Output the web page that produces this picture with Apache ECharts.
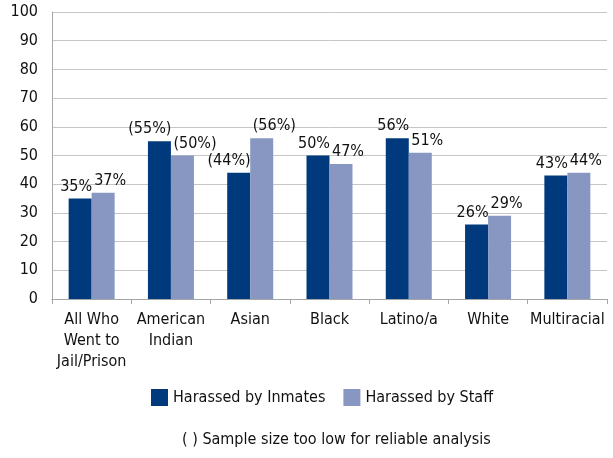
<!DOCTYPE html>
<html><head><meta charset="utf-8">
<script src="https://cdn.jsdelivr.net/npm/echarts@6/dist/echarts.min.js"></script>
<style>html,body{margin:0;padding:0;background:#fff}#c{width:613px;height:458px}</style>
</head><body><div id="c"></div>
<script>
const categories = ['All Who\nWent to\nJail/Prison', 'American\nIndian', 'Asian', 'Black', 'Latino/a', 'White', 'Multiracial'];
const inmates = [35, 55, 44, 50, 56, 26, 43];
const staff = [37, 50, 56, 47, 51, 29, 44];
const lowSample = [false, true, true, false, false, false, false];
const seriesNames = ['Harassed by Inmates', 'Harassed by Staff'];
const yTicks = {min: 0, max: 100, interval: 10};
const note = '( ) Sample size too low for reliable analysis';

const FONT = '"Liberation Sans Narrow", "DejaVu Sans Condensed", sans-serif';
const fmt = p => lowSample[p.dataIndex] ? '(' + p.value + '%)' : p.value + '%';
const chart = echarts.init(document.getElementById('c'));
chart.setOption({
  animation: false,
  textStyle: {fontFamily: FONT},
  grid: {left: 52, right: 6, top: 12, bottom: 159, containLabel: false},
  xAxis: {
    type: 'category', data: categories,
    axisLine: {lineStyle: {color: '#A6A6A6'}},
    axisTick: {show: true, length: 5, lineStyle: {color: '#A6A6A6'}},
    axisLabel: {color: '#111', fontSize: 16, fontFamily: FONT, lineHeight: 21, margin: 10, interval: 0}
  },
  yAxis: {
    type: 'value', min: yTicks.min, max: yTicks.max, interval: yTicks.interval,
    axisLine: {show: true, lineStyle: {color: '#A6A6A6'}},
    axisTick: {show: false},
    splitLine: {lineStyle: {color: '#C6C6C6'}},
    axisLabel: {color: '#111', fontSize: 16, fontFamily: FONT, margin: 14}
  },
  legend: {
    data: seriesNames, left: 146, top: 384, itemWidth: 17, itemHeight: 17, itemGap: 18,
    icon: 'rect', textStyle: {fontSize: 16, color: '#111', fontFamily: FONT}
  },
  graphic: [{type: 'text', left: 182, top: 432, style: {text: note, fontSize: 16, fill: '#111', fontFamily: FONT}}],
  series: [
    {name: seriesNames[0], type: 'bar', data: inmates, barWidth: 23, barGap: '0%',
     itemStyle: {color: '#003A7D'},
     label: {show: true, position: 'top', align: 'right', offset: [12, 0], distance: 4, formatter: fmt, fontSize: 16, color: '#111', fontFamily: FONT}},
    {name: seriesNames[1], type: 'bar', data: staff, barWidth: 23,
     itemStyle: {color: '#8797C2'},
     label: {show: true, position: 'top', align: 'left', offset: [-9, 0], distance: 4, formatter: fmt, fontSize: 16, color: '#111', fontFamily: FONT}}
  ]
});
</script></body></html>
